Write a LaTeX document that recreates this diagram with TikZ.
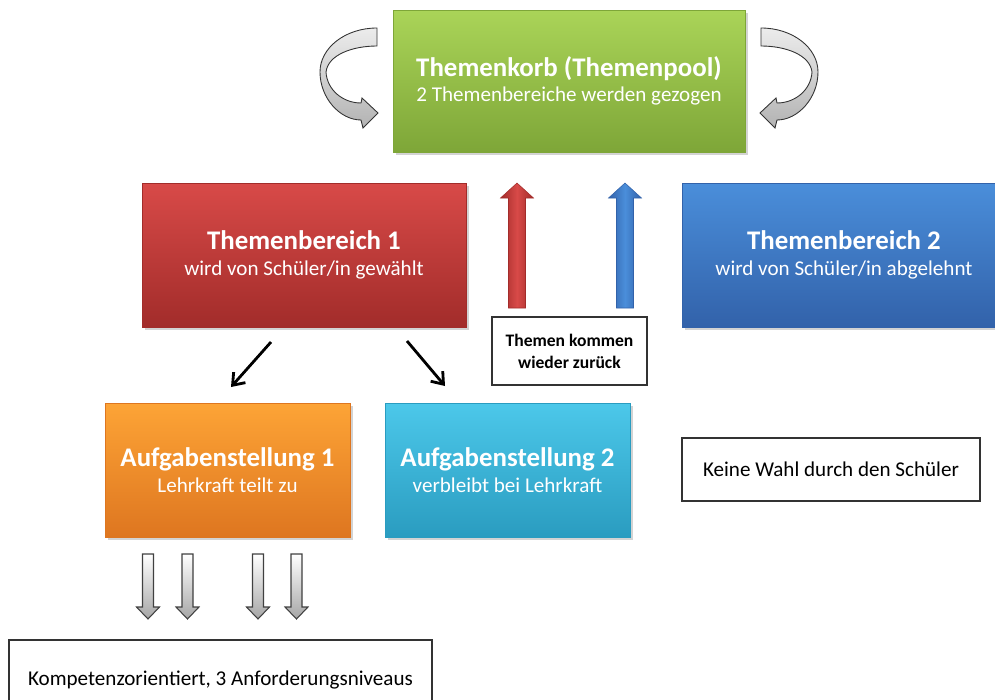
\documentclass[tikz,border=0pt]{standalone}
\usepackage{fontspec}
\setmainfont{Carlito}
\usetikzlibrary{arrows.meta,shadows}

\definecolor{korbtop}{RGB}{170,212,88}
\definecolor{korbbot}{RGB}{126,166,56}
\definecolor{tbeinstop}{RGB}{216,74,72}
\definecolor{tbeinsbot}{RGB}{162,44,42}
\definecolor{tbzweitop}{RGB}{74,142,218}
\definecolor{tbzweibot}{RGB}{50,98,170}
\definecolor{afeinstop}{RGB}{253,164,54}
\definecolor{afeinsbot}{RGB}{222,118,32}
\definecolor{afzweitop}{RGB}{76,200,234}
\definecolor{afzweibot}{RGB}{42,156,192}

\newcommand{\boxtitel}[1]{{\fontsize{15.3}{17}\selectfont\bfseries #1}}

\begin{document}
\begin{tikzpicture}[x=0.02cm,y=-0.02cm,
  farbbox/.style={inner sep=0pt, align=center, text=white, font=\fontsize{12}{14}\selectfont,
    drop shadow={shadow xshift=1.5pt, shadow yshift=-1.5pt, opacity=0.35}},
  textbox/.style={draw=black!80, line width=0.8pt, fill=white, inner sep=0pt, align=center,
    font=\fontsize{12}{14}\selectfont},
  wahlpfeil/.style={line width=1.6pt, -{Straight Barb[length=6pt,width=9pt]}},
  kringel/.style={top color=gray!15, bottom color=gray!60, draw=black!80, line width=0.5pt}]
\useasboundingbox (0,0) rectangle (995,700);
\clip (0,0) rectangle (995,700);

% colored boxes
\node[farbbox, top color=korbtop, bottom color=korbbot, draw=korbbot, minimum width=7.04cm, minimum height=2.84cm] (korb) at (569,81)
  {\boxtitel{Themenkorb (Themenpool)}\\[0.5pt]2 Themenbereiche werden gezogen};
\node[farbbox, top color=tbeinstop, bottom color=tbeinsbot, draw=tbeinsbot, minimum width=6.48cm, minimum height=2.88cm] (bereich1) at (304,255)
  {\boxtitel{Themenbereich 1}\\[0.5pt]wird von Schüler/in gewählt};
\node[farbbox, top color=tbzweitop, bottom color=tbzweibot, draw=tbzweibot, minimum width=6.48cm, minimum height=2.88cm] (bereich2) at (844,255)
  {\boxtitel{Themenbereich 2}\\[0.5pt]wird von Schüler/in abgelehnt};
\node[farbbox, top color=afeinstop, bottom color=afeinsbot, draw=afeinsbot, minimum width=4.9cm, minimum height=2.68cm] (aufgabe1) at (227.5,470)
  {\boxtitel{Aufgabenstellung 1}\\[0.5pt]Lehrkraft teilt zu};
\node[farbbox, top color=afzweitop, bottom color=afzweibot, draw=afzweibot, minimum width=4.9cm, minimum height=2.68cm] (aufgabe2) at (507.5,470)
  {\boxtitel{Aufgabenstellung 2}\\[0.5pt]verbleibt bei Lehrkraft};

% text boxes
\node[textbox, minimum width=3.1cm, minimum height=1.36cm, font=\fontsize{10}{12.5}\selectfont\bfseries] (zurueck) at (569.5,351)
  {Themen kommen\\wieder zurück};
\node[textbox, minimum width=5.96cm, minimum height=1.26cm] (keinewahl) at (831,469.5) {Keine Wahl durch den Schüler};
\node[textbox, minimum width=8.46cm, minimum height=1.6cm] (kompetenz) at (220.5,680) {Kompetenzorientiert, 3 Anforderungsniveaus};

% curled arrows beside the pool
\path[kringel] (377,28) .. controls (345,28) and (320,48) .. (320,72) .. controls (320,98) and (340,120) .. (361,120)
  -- (363,128) -- (378,113) -- (362,98) -- (361,103) .. controls (343,103) and (327,90) .. (326,72)
  .. controls (328,55) and (352,46) .. (377,46) -- cycle;
\begin{scope}[shift={(1138,0)}, xscale=-1]
\path[kringel] (377,28) .. controls (345,28) and (320,48) .. (320,72) .. controls (320,98) and (340,120) .. (361,120)
  -- (363,128) -- (378,113) -- (362,98) -- (361,103) .. controls (343,103) and (327,90) .. (326,72)
  .. controls (328,55) and (352,46) .. (377,46) -- cycle;
\end{scope}

% block arrows back into the pool
\foreach \cx/\fa/\fb in {517/tbeinsbot/tbeinstop, 625/tbzweibot/tbzweitop}
  \path[left color=\fa, right color=\fa, middle color=\fb, draw=\fa, line width=0.3pt]
    (\cx-8.5,308) -- (\cx-8.5,198) -- (\cx-16.5,198) -- (\cx,183) -- (\cx+16.5,198) -- (\cx+8.5,198) -- (\cx+8.5,308) -- cycle;

% choice arrows
\coordinate (wahl1s) at (271,342);
\coordinate (wahl1e) at (231,387);
\coordinate (wahl2s) at (407,341);
\coordinate (wahl2e) at (445,386);
\draw[wahlpfeil] (wahl1s) -- (wahl1e);
\draw[wahlpfeil] (wahl2s) -- (wahl2e);

% arrows down to the levels
\foreach \cx in {148,187.5,258,296.5}
  \path[top color=white, bottom color=black!35, draw=black!75, line width=0.6pt]
    (\cx-5.5,554) -- (\cx+5.5,554) -- (\cx+5.5,607) -- (\cx+11.5,607) -- (\cx,619) -- (\cx-11.5,607) -- (\cx-5.5,607) -- cycle;
\end{tikzpicture}
\end{document}
